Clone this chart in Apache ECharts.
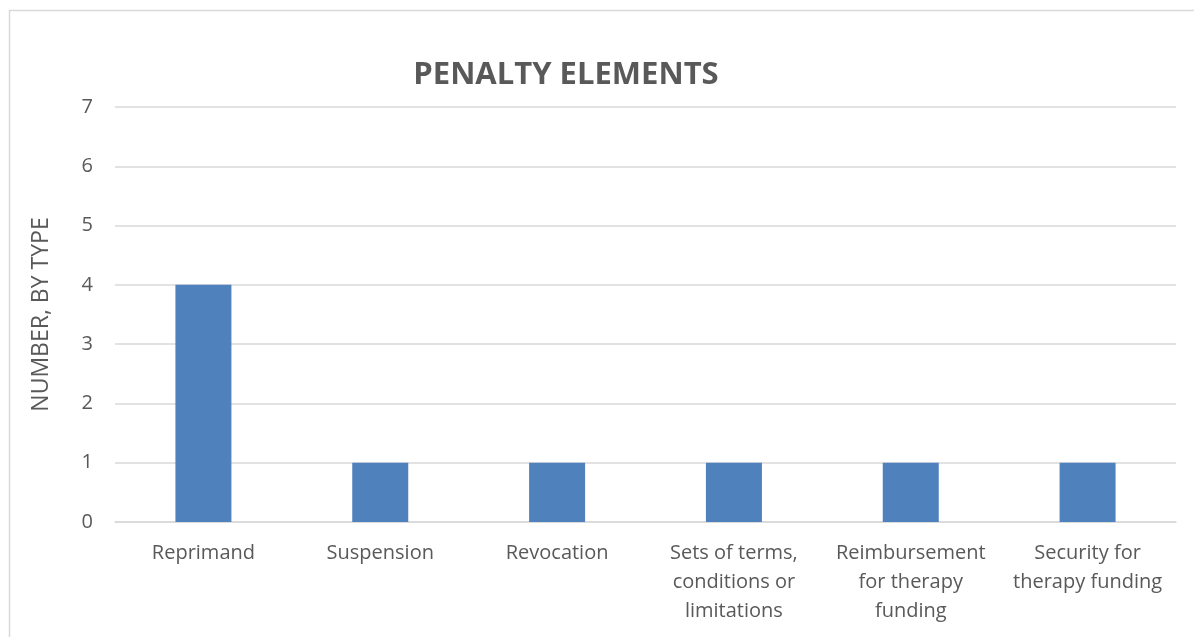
<!DOCTYPE html>
<html>
<head>
<meta charset="utf-8">
<script src="https://cdn.jsdelivr.net/npm/echarts@6/dist/echarts.min.js"></script>
<style>html,body{margin:0;padding:0;background:#fff;}#c{width:1194px;height:637px;}</style>
</head>
<body>
<div id="c"></div>
<script>
const categories = ["Reprimand", "Suspension", "Revocation", "Sets of terms,\nconditions or\nlimitations", "Reimbursement\nfor therapy\nfunding", "Security for\ntherapy funding"];
const values = [4, 1, 1, 1, 1, 1];
const titleText = "PENALTY ELEMENTS";
const yAxisName = "NUMBER, BY TYPE";

const chart = echarts.init(document.getElementById('c'), null, {renderer: 'canvas'});
const font = "'Open Sans', 'Noto Sans', sans-serif";
chart.setOption({
  animation: false,
  backgroundColor: '#fff',
  graphic: [{
    type: 'rect', left: 7, top: 8, silent: true,
    shape: {width: 1200, height: 700},
    style: {fill: 'none', stroke: '#d9d9d9', lineWidth: 1.5}
  }],
  title: {
    text: titleText, left: 561, top: 55, textAlign: 'center',
    textStyle: {fontFamily: font, fontWeight: 'bold', fontSize: 31, color: '#595959'}
  },
  grid: {left: 115, right: 18, top: 107, bottom: 115},
  xAxis: {
    type: 'category', data: categories,
    axisLine: {lineStyle: {color: '#d9d9d9', width: 1.5}},
    axisTick: {show: false},
    axisLabel: {fontFamily: font, fontSize: 20, color: '#595959', margin: 17, lineHeight: 29, interval: 0}
  },
  yAxis: {
    type: 'value', min: 0, max: 7, interval: 1,
    name: yAxisName, nameLocation: 'middle', nameGap: 62, nameRotate: 90,
    nameTextStyle: {fontFamily: font, fontSize: 23, color: '#595959'},
    axisLine: {show: false}, axisTick: {show: false},
    axisLabel: {fontFamily: font, fontSize: 20, color: '#595959', margin: 22},
    splitLine: {lineStyle: {color: '#d9d9d9', width: 1.5}}
  },
  series: [{
    type: 'bar', data: values, barWidth: 56,
    itemStyle: {color: '#4f81bd'}
  }]
});
</script>
</body>
</html>
